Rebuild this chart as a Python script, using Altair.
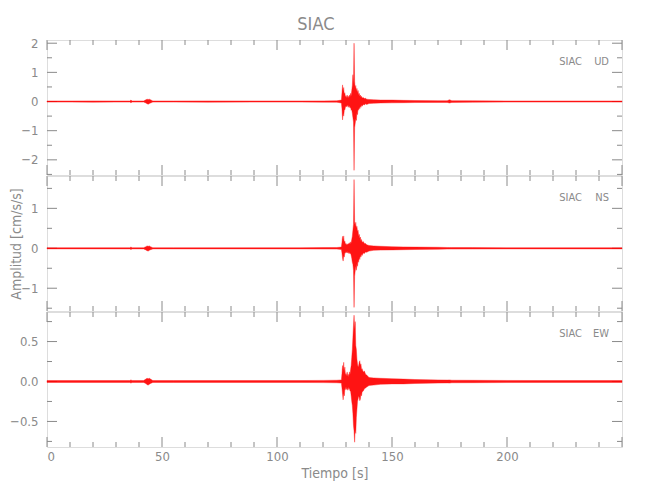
import altair as alt
import pandas as pd

# ---- data (envelope of each trace, upper / lower) ----
T_PRE = [0, 10, 20, 30, 36, 36.5, 37, 42, 43, 43.5, 44, 44.5, 45, 46, 55, 70, 90, 110, 120, 126]
T_EVT = [128, 128.25, 128.5, 128.75, 129, 129.25, 129.5, 129.75, 130, 130.25, 130.5, 130.75,
         131, 131.25, 131.5, 131.75, 132, 132.25, 132.5, 132.75, 133, 133.25, 133.5, 133.75,
         134, 134.25, 134.5, 134.75, 135, 135.25, 135.5, 135.75, 136, 136.25, 136.5, 136.75,
         137, 137.5, 138, 138.5, 139]
T_POST = [140, 142, 145, 150, 155, 160, 170, 174, 175, 176, 185, 200, 220, 240, 250]

UD_PRE_UP = [0.02, 0.02, 0.022, 0.02, 0.02, 0.05, 0.02, 0.02, 0.06, 0.08, 0.07, 0.08, 0.06, 0.02,
             0.02, 0.022, 0.02, 0.02, 0.022, 0.025]
UD_PRE_LO = [-0.02, -0.02, -0.022, -0.02, -0.02, -0.045, -0.02, -0.02, -0.05, -0.08, -0.09,
             -0.07, -0.05, -0.02, -0.02, -0.022, -0.02, -0.02, -0.022, -0.025]
UD_EVT_UP = [0.05, 0.30, 0.57, 0.35, 0.48, 0.25, 0.30, 0.15, 0.20, 0.12, 0.22, 0.14, 0.18, 0.12,
             0.22, 0.16, 0.28, 0.20, 0.38, 0.55, 0.92, 0.60, 2.00, 0.70, 0.45, 0.55, 0.35, 0.45,
             0.30, 0.38, 0.22, 0.28, 0.18, 0.22, 0.15, 0.18, 0.12, 0.14, 0.10, 0.11, 0.08]
UD_EVT_LO = [-0.05, -0.25, -0.63, -0.40, -0.50, -0.30, -0.28, -0.20, -0.15, -0.18, -0.12, -0.16,
             -0.20, -0.14, -0.18, -0.22, -0.20, -0.30, -0.28, -0.40, -0.55, -0.70, -2.36, -0.90,
             -0.75, -0.60, -0.65, -0.40, -0.45, -0.25, -0.30, -0.20, -0.25, -0.15, -0.20, -0.12,
             -0.16, -0.10, -0.12, -0.08, -0.10]
UD_POST_UP = [0.07, 0.06, 0.05, 0.05, 0.04, 0.035, 0.03, 0.03, 0.06, 0.03, 0.025, 0.02, 0.02,
              0.02, 0.02]
UD_POST_LO = [-0.07, -0.06, -0.05, -0.045, -0.04, -0.035, -0.03, -0.03, -0.05, -0.03, -0.025,
              -0.02, -0.02, -0.02, -0.02]

NS_PRE_UP = [0.015, 0.015, 0.015, 0.015, 0.015, 0.03, 0.015, 0.015, 0.04, 0.06, 0.05, 0.06,
             0.04, 0.015, 0.015, 0.015, 0.015, 0.015, 0.018, 0.02]
NS_PRE_LO = [-0.015, -0.015, -0.015, -0.015, -0.015, -0.03, -0.015, -0.015, -0.04, -0.06, -0.07,
             -0.05, -0.035, -0.015, -0.015, -0.015, -0.015, -0.015, -0.018, -0.02]
NS_EVT_UP = [0.03, 0.15, 0.30, 0.20, 0.31, 0.15, 0.18, 0.10, 0.12, 0.08, 0.11, 0.09, 0.12, 0.10,
             0.14, 0.11, 0.16, 0.14, 0.22, 0.30, 0.45, 0.60, 1.72, 0.68, 0.55, 0.65, 0.50, 0.55,
             0.42, 0.45, 0.30, 0.35, 0.25, 0.28, 0.18, 0.22, 0.15, 0.17, 0.12, 0.12, 0.09]
NS_EVT_LO = [-0.03, -0.12, -0.25, -0.32, -0.20, -0.22, -0.12, -0.12, -0.08, -0.11, -0.08, -0.12,
             -0.09, -0.13, -0.10, -0.14, -0.12, -0.18, -0.25, -0.35, -0.40, -0.55, -1.48, -0.70,
             -0.57, -0.45, -0.55, -0.40, -0.45, -0.30, -0.35, -0.22, -0.28, -0.18, -0.22, -0.15,
             -0.18, -0.12, -0.13, -0.09, -0.10]
NS_POST_UP = [0.07, 0.06, 0.05, 0.04, 0.035, 0.03, 0.025, 0.02, 0.02, 0.02, 0.018, 0.015, 0.015,
              0.015, 0.015]
NS_POST_LO = [-0.07, -0.05, -0.045, -0.04, -0.035, -0.03, -0.025, -0.02, -0.02, -0.02, -0.018,
              -0.015, -0.015, -0.015, -0.015]

EW_PRE_UP = [0.012, 0.012, 0.012, 0.012, 0.012, 0.02, 0.012, 0.012, 0.03, 0.04, 0.035, 0.04,
             0.03, 0.012, 0.012, 0.012, 0.012, 0.012, 0.014, 0.016]
EW_PRE_LO = [-0.012, -0.012, -0.012, -0.012, -0.012, -0.02, -0.012, -0.012, -0.025, -0.04, -0.045,
             -0.035, -0.025, -0.012, -0.012, -0.012, -0.012, -0.012, -0.014, -0.016]
EW_EVT_UP = [0.02, 0.10, 0.20, 0.14, 0.24, 0.12, 0.18, 0.08, 0.10, 0.07, 0.12, 0.07, 0.09, 0.06,
             0.12, 0.09, 0.15, 0.20, 0.30, 0.40, 0.55, 0.70, 0.83, 0.65, 0.75, 0.45, 0.40, 0.28,
             0.22, 0.18, 0.20, 0.24, 0.26, 0.20, 0.22, 0.15, 0.16, 0.12, 0.13, 0.09, 0.08]
EW_EVT_LO = [-0.02, -0.08, -0.16, -0.23, -0.15, -0.18, -0.10, -0.10, -0.07, -0.10, -0.08, -0.11,
             -0.07, -0.10, -0.08, -0.12, -0.12, -0.18, -0.25, -0.30, -0.40, -0.55, -0.62, -0.76,
             -0.60, -0.65, -0.45, -0.35, -0.25, -0.22, -0.18, -0.20, -0.24, -0.22, -0.16, -0.18,
             -0.13, -0.12, -0.09, -0.08, -0.07]
EW_POST_UP = [0.05, 0.045, 0.04, 0.035, 0.03, 0.025, 0.02, 0.018, 0.02, 0.016, 0.015, 0.013,
              0.012, 0.012, 0.012]
EW_POST_LO = [-0.05, -0.045, -0.035, -0.03, -0.03, -0.025, -0.02, -0.018, -0.02, -0.016, -0.015,
              -0.013, -0.012, -0.012, -0.012]

X_DOMAIN = [0, 250]
X_MAJOR = [0, 50, 100, 150, 200, 250]
X_MINOR = [10, 20, 30, 40, 60, 70, 80, 90, 110, 120, 130, 140, 160, 170, 180, 190, 210, 220,
           230, 240]
X_LABELS = [0, 50, 100, 150, 200]

UD_DOMAIN = [-2.52, 2.11]
UD_MAJOR = [-2, -1, 0, 1, 2]
UD_MINOR = [-2.5, -1.5, -0.5, 0.5, 1.5]
NS_DOMAIN = [-1.57, 1.81]
NS_MAJOR = [-1, 0, 1]
NS_MINOR = [-1.5, -0.5, 0.5, 1.5]
EW_DOMAIN = [-0.82, 0.87]
EW_MAJOR = [-0.5, 0.0, 0.5]
EW_MINOR = [-0.75, -0.25, 0.25, 0.75]

STATION = "SIAC"
COMPONENTS = ["UD", "NS", "EW"]

GRAY = "#8a8a8a"
FONT = "Liberation Sans Narrow, DejaVu Sans Condensed, Roboto, sans-serif"
W, H = 575, 135
MAJ, MIN = 10, 5


def panel(up, lo, ydom, ymaj, ymin, comp, with_xaxis, ytitle, fmt):
    xs = alt.Scale(domain=X_DOMAIN, nice=False, zero=False)
    ys = alt.Scale(domain=ydom, nice=False, zero=False)
    df = pd.DataFrame({"t": T_PRE + T_EVT + T_POST, "up": up, "lo": lo})

    if with_xaxis:
        xax = alt.Axis(values=X_LABELS, ticks=False, tickSize=0, domain=False, grid=False,
                       labelPadding=3, labelColor=GRAY, labelFont=FONT, labelFontSize=13,
                       title="Tiempo [s]", titleColor=GRAY, titleFont=FONT,
                       titleFontSize=14, titleFontWeight="normal", titlePadding=3)
    else:
        xax = None
    yax_kw = dict(values=ymaj, ticks=False, tickSize=0, domain=False, grid=False,
                  labelPadding=9, labelColor=GRAY, labelFont=FONT, labelFontSize=13,
                  format=fmt)
    if ytitle:
        yax = alt.Axis(title=ytitle, titleColor=GRAY, titleFont=FONT, titleFontSize=14,
                       titleFontWeight="normal", titleX=-31, titleBaseline="middle",
                       **yax_kw)
    else:
        yax = alt.Axis(title=None, **yax_kw)

    def xticks(vals, ln):
        d = pd.DataFrame({"v": vals})
        top = alt.Chart(d).mark_rule(color=GRAY, strokeWidth=1).encode(
            x=alt.X("v:Q", scale=xs, axis=xax), y=alt.value(0), y2=alt.value(ln))
        bot = alt.Chart(d).mark_rule(color=GRAY, strokeWidth=1).encode(
            x=alt.X("v:Q", scale=xs, axis=xax), y=alt.value(H), y2=alt.value(H - ln))
        return [top, bot]

    def yticks(vals, ln):
        d = pd.DataFrame({"v": vals})
        left = alt.Chart(d).mark_rule(color=GRAY, strokeWidth=1).encode(
            y=alt.Y("v:Q", scale=ys, axis=yax), x=alt.value(0), x2=alt.value(ln))
        right = alt.Chart(d).mark_rule(color=GRAY, strokeWidth=1).encode(
            y=alt.Y("v:Q", scale=ys, axis=yax), x=alt.value(W), x2=alt.value(W - ln))
        return [left, right]

    area = alt.Chart(df).mark_area(color="#ff0000", opacity=0.92, stroke="#ff0000",
                                   strokeWidth=0.4).encode(
        x=alt.X("t:Q", scale=xs, axis=xax),
        y=alt.Y("up:Q", scale=ys, axis=yax),
        y2="lo:Q",
    )

    lab = pd.DataFrame({"s": [STATION], "c": [comp]})
    t1 = alt.Chart(lab).mark_text(color=GRAY, font=FONT, fontSize=11, align="right",
                                  baseline="middle").encode(
        text="s:N", x=alt.value(535), y=alt.value(22))
    t2 = alt.Chart(lab).mark_text(color=GRAY, font=FONT, fontSize=11, align="right",
                                  baseline="middle").encode(
        text="c:N", x=alt.value(562), y=alt.value(22))

    layers = xticks(X_MAJOR, MAJ) + xticks(X_MINOR, MIN) + \
        yticks(ymaj, MAJ) + yticks(ymin, MIN) + [area, t1, t2]
    return alt.layer(*layers).properties(width=W, height=H)


p1 = panel(UD_PRE_UP + UD_EVT_UP + UD_POST_UP, UD_PRE_LO + UD_EVT_LO + UD_POST_LO,
           UD_DOMAIN, UD_MAJOR, UD_MINOR, COMPONENTS[0], False, None, "d")
p2 = panel(NS_PRE_UP + NS_EVT_UP + NS_POST_UP, NS_PRE_LO + NS_EVT_LO + NS_POST_LO,
           NS_DOMAIN, NS_MAJOR, NS_MINOR, COMPONENTS[1], False, "Amplitud [cm/s/s]", "d")
p3 = panel(EW_PRE_UP + EW_EVT_UP + EW_POST_UP, EW_PRE_LO + EW_EVT_LO + EW_POST_LO,
           EW_DOMAIN, EW_MAJOR, EW_MINOR, COMPONENTS[2], True, None, ".1f")

chart = alt.vconcat(p1, p2, p3, spacing=-1).properties(
    title=alt.TitleParams(STATION, font=FONT, fontSize=18, fontWeight="normal",
                          color=GRAY, anchor="middle", offset=3),
    padding={"left": 0, "top": 7, "right": 5, "bottom": 5},
).configure_view(stroke=GRAY, strokeWidth=1).configure(background="white")

chart.save("out.html", embed_options={"renderer": "svg", "actions": False})
